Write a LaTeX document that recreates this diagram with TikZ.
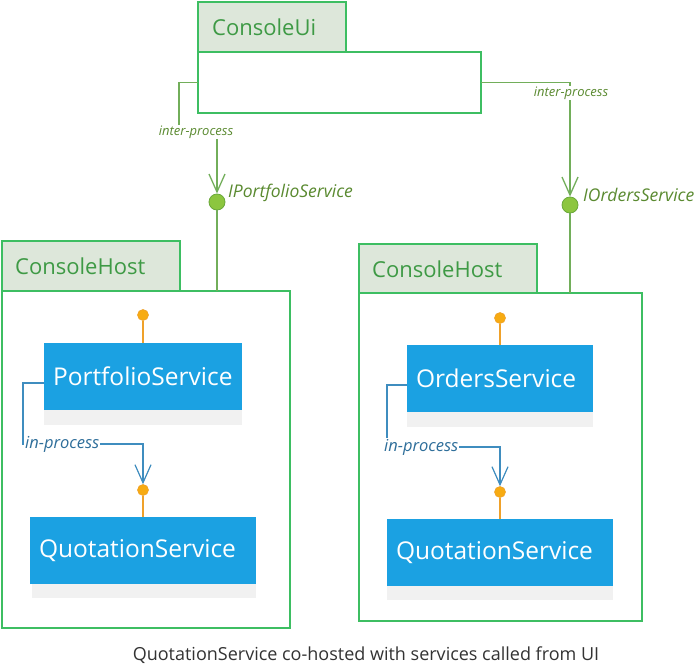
\documentclass[tikz,border=0pt]{standalone}
\usepackage{fontspec}
\setmainfont{Open Sans}
\usetikzlibrary{arrows.meta,calc}
\definecolor{gborder}{HTML}{3DBE62}
\definecolor{gtab}{HTML}{DDE7DA}
\definecolor{gtext}{HTML}{3E9A45}
\definecolor{gconn}{HTML}{72AE5A}
\definecolor{glabel}{HTML}{5A8A30}
\definecolor{gdot}{HTML}{8CC63F}
\definecolor{gdotb}{HTML}{6AA83A}
\definecolor{bfill}{HTML}{1BA1E2}
\definecolor{bconn}{HTML}{3F8DBF}
\definecolor{blabel}{HTML}{2E6E9A}
\definecolor{ofill}{HTML}{F7AB12}
\definecolor{oline}{HTML}{EFA12A}
\definecolor{shade}{HTML}{F1F1F1}
\definecolor{captext}{HTML}{333333}
\tikzset{
  tabbox/.style={draw=gborder, line width=1.3pt, fill=gtab, inner sep=0pt, outer sep=0pt, anchor=north west},
  bodybox/.style={draw=gborder, line width=1.3pt, fill=white, inner sep=0pt, outer sep=0pt, anchor=north west},
  tabtext/.style={text=gtext, font=\fontsize{22}{24}\selectfont, anchor=west, inner sep=0pt},
  svcbox/.style={fill=bfill, inner xsep=9pt, inner ysep=0pt, outer sep=0pt, anchor=north west, align=left, text=white, font=\fontsize{24.5}{28}\selectfont},
  shadebox/.style={fill=shade, inner sep=0pt, outer sep=0pt, anchor=north west},
  gconnline/.style={draw=gconn, line width=1.3pt},
  bconnline/.style={draw=bconn, line width=1.2pt},
  iface/.style={circle, fill=gdot, draw=gdotb, line width=0.8pt, minimum size=16pt, inner sep=0pt},
  lolli/.style={circle, fill=ofill, draw=oline, line width=0.6pt, minimum size=11pt, inner sep=0pt},
  interlabel/.style={fill=white, inner sep=1pt, text=glabel, font=\itshape\fontsize{13}{14}\selectfont},
  inlabel/.style={fill=white, inner sep=1pt, text=blabel, font=\itshape\fontsize{16.5}{18}\selectfont},
  ifacelabel/.style={anchor=west, inner sep=0pt, text=glabel, font=\itshape\fontsize{17.5}{19}\selectfont},
  gbarb/.style={-{Straight Barb[length=18pt,width=16pt,line width=1.3pt]}},
  bbarb/.style={-{Straight Barb[length=18pt,width=16pt,line width=1.2pt]}},
}
\begin{document}
\begin{tikzpicture}[x=1pt,y=-1pt]
\useasboundingbox[fill=white] (0,0) rectangle (700,665);

% ConsoleUi
\node[tabbox, minimum width=148, minimum height=50] (uitab) at (198,2) {};
\node[tabtext] (uitabt) at (212,27) {ConsoleUi};
\node[bodybox, minimum width=283, minimum height=61] (ui) at (198,52) {};

% Left ConsoleHost
\node[tabbox, minimum width=178, minimum height=50] (hltab) at (2,241) {};
\node[tabtext] (hltabt) at (15,266) {ConsoleHost};
\node[bodybox, minimum width=288, minimum height=337] (hl) at (2,291) {};

% Right ConsoleHost
\node[tabbox, minimum width=178, minimum height=49] (hrtab) at (359,244) {};
\node[tabtext] (hrtabt) at (372,269) {ConsoleHost};
\node[bodybox, minimum width=283, minimum height=328] (hr) at (359,293) {};

% Services left
\node[shadebox, minimum width=198, minimum height=15] (pfs) at (44,410) {};
\node[svcbox, text width=180pt, minimum height=67] (pf) at (44,343) {PortfolioService};
\node[shadebox, minimum width=224, minimum height=14] (qls) at (32,584) {};
\node[svcbox, text width=208pt, minimum height=67] (ql) at (30,517) {QuotationService};

% Services right
\node[shadebox, minimum width=186, minimum height=15] (ors) at (407,412) {};
\node[svcbox, text width=168pt, minimum height=67] (or) at (407,345) {OrdersService};
\node[shadebox, minimum width=226, minimum height=14] (qrs) at (387,586) {};
\node[svcbox, text width=208pt, minimum height=67] (qr) at (387,519) {QuotationService};

% Interfaces (green)
\node[iface] (ipf) at (217,202) {};
\node[ifacelabel] (ipft) at (228,193) {IPortfolioService};
\node[iface] (ior) at (570,205) {};
\node[ifacelabel] (iort) at (583,195) {IOrdersService};

% Lollipops (orange)
\node[lolli] (lpf) at (143,315) {};
\node[lolli] (lql) at (143,490) {};
\node[lolli] (lor) at (500,318) {};
\node[lolli] (lqr) at (500,492) {};

\draw[draw=oline, line width=1.2pt] (lpf.south) -- (lpf.south |- pf.north);
\draw[draw=oline, line width=1.2pt] (lql.south) -- (lql.south |- ql.north);
\draw[draw=oline, line width=1.2pt] (lor.south) -- (lor.south |- or.north);
\draw[draw=oline, line width=1.2pt] (lqr.south) -- (lqr.south |- qr.north);

% Inter-process connectors
\coordinate (c1) at (179,82.5);
\coordinate (c2) at (179,132);
\coordinate (c3) at (217,132);
\draw[gconnline, gbarb] (ui.west) -- (c1) -- (c2) -- (c3) -- (ipf.north);
\node[interlabel] (l1) at (196,132) {inter-process};
\coordinate (d1) at (570,82.5);
\draw[gconnline, gbarb] (ui.east) -- (d1) -- (ior.north);
\node[interlabel] (l2) at (571,93) {inter-process};
\draw[gconnline] (ipf.south) -- (ipf.south |- hl.north);
\draw[gconnline] (ior.south) -- (ior.south |- hr.north);

% In-process connectors
\coordinate (e1) at (23,383);
\coordinate (e2) at (23,444);
\draw[bconnline, bbarb] (pf.west |- e1) -- (e1) -- (e2) -- (lql.north |- e2) -- (lql.north);
\node[inlabel, anchor=west] (l3) at (24,444) {in-process};
\coordinate (f1) at (387,385);
\coordinate (f2) at (387,447);
\draw[bconnline, bbarb] (or.west |- f1) -- (f1) -- (f2) -- (lqr.north |- f2) -- (lqr.north);
\node[inlabel, anchor=west] (l4) at (383,447) {in-process};

% Caption
\node[text=captext, font=\fontsize{18}{20}\selectfont] (cap) at (366,655) {QuotationService co-hosted with services called from UI};
\end{tikzpicture}
\end{document}
